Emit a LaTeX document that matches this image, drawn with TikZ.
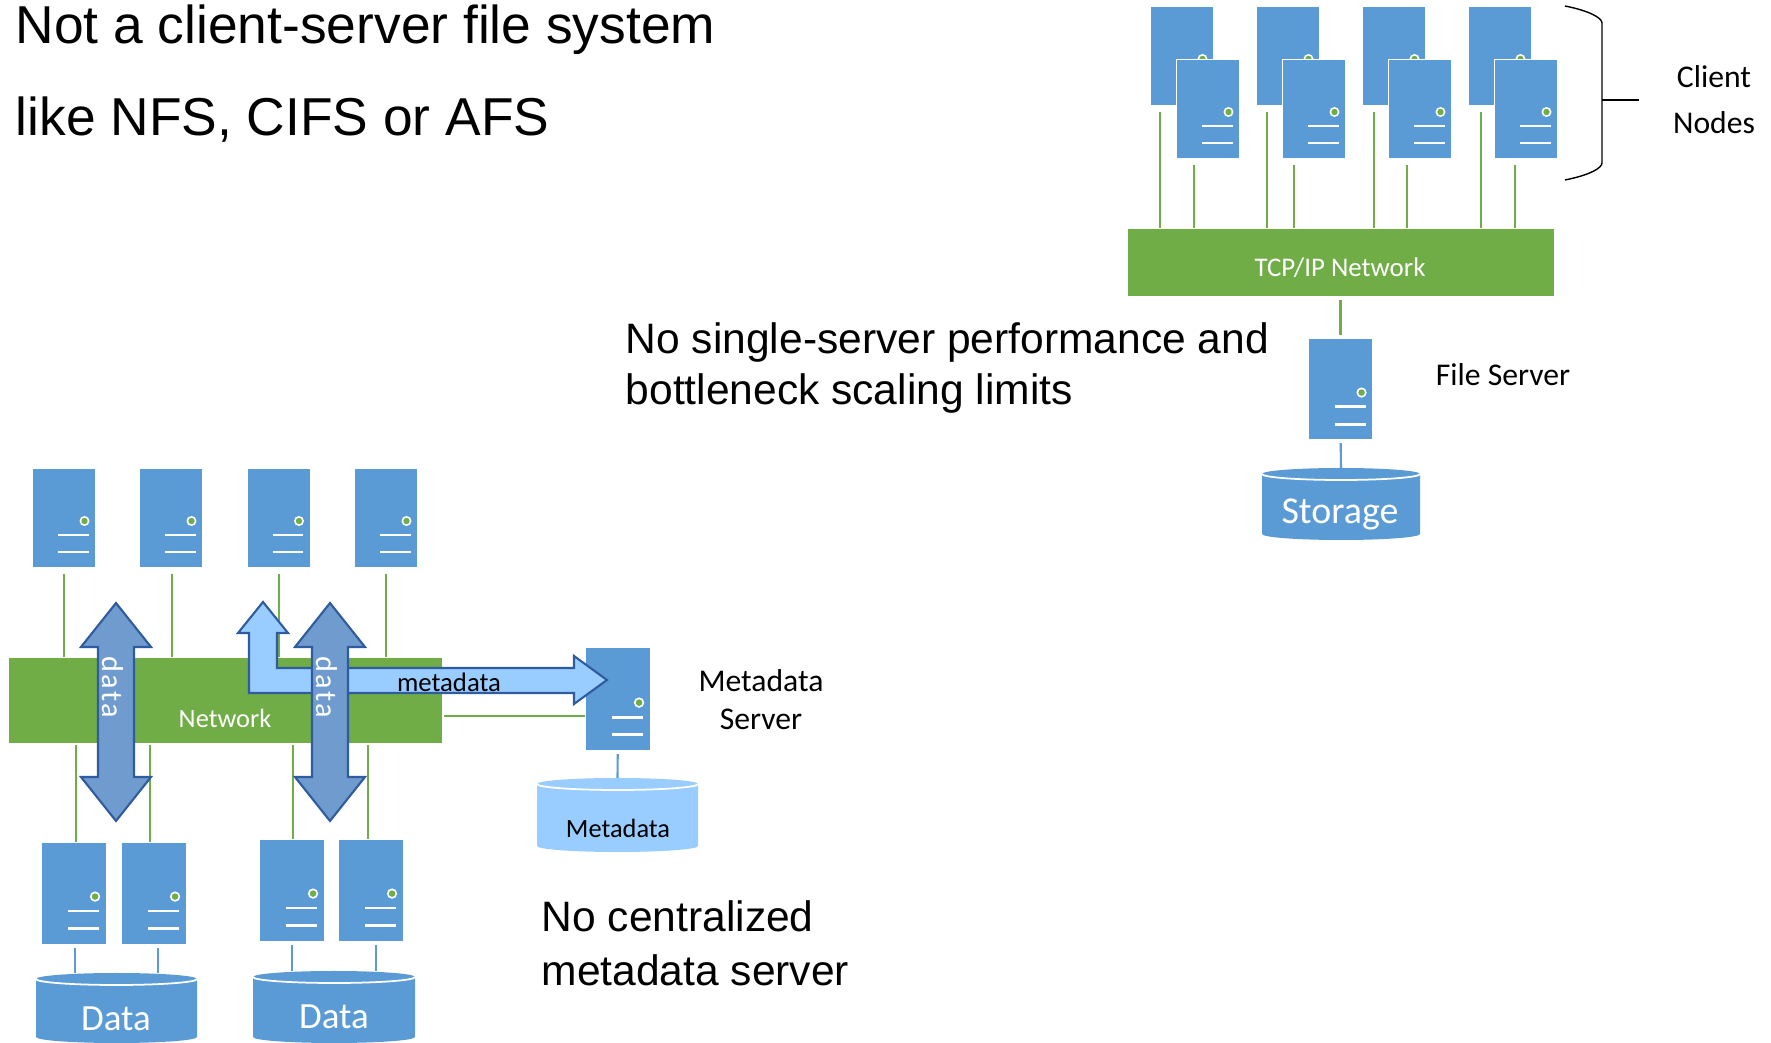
\documentclass[tikz,border=0pt]{standalone}
\usepackage{fontspec}
\setmainfont{Carlito}
\newfontfamily\headfont{Liberation Sans}
\newfontfamily\spacedfont[LetterSpace=8]{Carlito}
\definecolor{srvblue}{HTML}{5B9BD5}
\definecolor{netgreen}{HTML}{70AD47}
\definecolor{metablue}{HTML}{99CCFF}
\definecolor{datablue}{HTML}{6F9BCF}
\definecolor{edgeblue}{HTML}{2F5C9E}
\tikzset{
  server/.style={rectangle,fill=srvblue,draw=white,line width=0.2pt,anchor=north west,
    minimum width=0.63cm,minimum height=0.99cm,inner sep=0pt,outer sep=0pt},
  network/.style={rectangle,fill=netgreen,draw=white,line width=0.2pt,anchor=north west,inner sep=0pt,outer sep=0pt},
  greenlink/.style={draw=netgreen,line width=0.75pt,shorten <=2pt},
  bluelink/.style={draw=srvblue,line width=0.6pt,shorten <=1pt},
  flow/.style={draw=edgeblue,line width=0.6pt,line join=miter},
  head/.style={font=\headfont\fontsize{15.17}{18}\selectfont,anchor=base west,inner sep=0pt},
  remark/.style={font=\headfont\fontsize{12.1}{15}\selectfont,anchor=base west,inner sep=0pt},
  label/.style={font=\fontsize{9}{11}\selectfont,inner sep=0pt},
  onnet/.style={font=\fontsize{7.5}{9}\selectfont,text=white,inner sep=0pt}
}
\newcommand{\servernode}[4][1]{
  \begin{scope}[shift={(#3,#4)},scale=#1]
    \node[server,transform shape] (#2) at (0,0) {};
    \fill[white] (52,53) circle[radius=5];
    \fill[netgreen] (52,53) circle[radius=3.2];
    \draw[white,line width=0.8pt] (25.5,67) -- (56,67);
    \draw[white,line width=0.8pt] (25.5,84) -- (56,84);
  \end{scope}
}
\newcommand{\storagenode}[6]{
  \begin{scope}[shift={(#3,#4)}]
    \fill[#2] (0,6) -- (0,#6-6) arc[start angle=180,end angle=0,x radius=#5/2,y radius=6]
      -- (#5,6) arc[start angle=0,end angle=-180,x radius=#5/2,y radius=6] -- cycle;
    \draw[white,line width=0.5pt] (0,6) arc[start angle=180,end angle=0,x radius=#5/2,y radius=6];
    \coordinate (#1) at (#5/2,0);
  \end{scope}
}
\begin{document}
\begin{tikzpicture}[x=0.01cm,y=-0.01cm]
  \useasboundingbox (0,0) rectangle (1771,1043);
  % upper right
  \foreach \n/\x in {1/1150.5,2/1256.5,3/1362.5,4/1468.5}
    \servernode{back\n}{\x}{6}
  \foreach \n/\x in {1/1176.5,2/1282.5,3/1388.5,4/1494.5}
    \servernode{front\n}{\x}{59}
  \node[network,minimum width=4.27cm,minimum height=0.68cm] (tcp) at (1127,228) {};
  \node[onnet,font=\fontsize{7.65}{9}\selectfont] (tcplabel) at (1340,268) {TCP/IP Network};
  \foreach \n/\x in {1/1160,2/1267,3/1374,4/1481}
    \draw[greenlink] (\x,0 |- back\n.south) -- (\x,0 |- tcp.north);
  \foreach \n/\x in {1/1194,2/1294,3/1407,4/1515}
    \draw[greenlink] (\x,0 |- front\n.south) -- (\x,0 |- tcp.north);
  \draw[line width=0.4pt] (1565,6) .. controls (1590,11) and (1602,18) .. (1602,23) -- (1602,163)
    .. controls (1602,168) and (1590,175) .. (1565,180);
  \coordinate (bracemid) at (1602,100);
  \coordinate (bracetick) at (1639,100);
  \draw[line width=0.4pt] (bracemid) -- (bracetick);
  \node[label] (clientlabel) at (1714,77) {Client};
  \node[label] (nodeslabel) at (1714,123) {Nodes};
  \servernode[1.02]{fileserver}{1308.5}{338.5}
  \storagenode{disk}{srvblue}{1262}{468}{158}{72}
  \node[label,text=white,font=\fontsize{10.8}{12}\selectfont] (disklabel) at (1340,514) {Storage};
  \draw[greenlink,shorten <=1pt,shorten >=1pt] (tcp.south -| fileserver.north) -- (fileserver.north);
  \draw[bluelink] (fileserver.south) -- (disk);
  \node[label] (filelabel) at (1503,375) {File Server};
  % lower left
  \foreach \n/\x in {1/32.5,2/139.5,3/247,4/354.5}
    \servernode{client\n}{\x}{468}
  \servernode[1.03]{data1}{41.5}{842}
  \servernode[1.03]{data2}{121.5}{842}
  \servernode[1.03]{data3}{259.5}{839}
  \servernode[1.03]{data4}{338.5}{839}
  \servernode[1.04]{metaserver}{585}{647.5}
  \node[network,minimum width=4.34cm,minimum height=0.86cm] (net) at (8,657) {};
  \foreach \n/\x in {1/64,2/172,3/279,4/386}
    \draw[greenlink] (\x,0 |- client\n.south) -- (\x,0 |- net.north);
  \foreach \n/\x in {1/76,2/150,3/293,4/368}
    \draw[greenlink,shorten <=0.5pt] (\x,0 |- net.south) -- (\x,0 |- data\n.north);
  \draw[greenlink,shorten <=0.5pt] (net.east |- 0,716) -- (metaserver.west |- 0,716);
  \node[onnet] (netlabel) at (225,718.5) {Network};
  \draw[flow,fill=metablue] (263,602) -- (288,633) -- (277,633) -- (277,668) -- (574,668) -- (574,656)
    -- (607,680) -- (574,704) -- (574,693) -- (249,693) -- (249,633) -- (238,633) -- cycle;
  \node[label,font=\fontsize{7.6}{9}\selectfont] (metaflow) at (449,682) {metadata};
  \foreach \x in {116,330} {
    \draw[flow,fill=datablue] (\x,603) -- (\x+35,647) -- (\x+18,647) -- (\x+18,777) -- (\x+35,777)
      -- (\x,821) -- (\x-35,777) -- (\x-18,777) -- (\x-18,647) -- (\x-35,647) -- cycle;
    \node[rotate=-90,text=white,inner sep=0pt,font=\spacedfont\fontsize{8.6}{10}\selectfont] (data\x) at (\x-3,687) {data};
  }
  \storagenode{store1}{srvblue}{36}{973}{161}{70}
  \storagenode{store2}{srvblue}{253}{971}{162}{72}
  \storagenode{metastore}{metablue}{537}{778}{161}{74}
  \node[label,text=white,font=\fontsize{10.5}{12}\selectfont] (store1label) at (116,1019) {Data};
  \node[label,text=white,font=\fontsize{10.5}{12}\selectfont] (store2label) at (334,1017) {Data};
  \node[label,font=\fontsize{7.5}{9}\selectfont] (metastorelabel) at (618,828) {Metadata};
  \foreach \n/\x/\s in {1/75/store1,2/158/store1,3/292/store2,4/376/store2}
    \draw[bluelink] (\x,0 |- data\n.south) -- (\x,0 |- \s);
  \draw[bluelink] (metaserver.south) -- (metastore);
  \node[label] (metalabel) at (761,681) {Metadata};
  \node[label] (serverlabel) at (761,719) {Server};
  % remarks
  \node[head] (head1) at (15,44) {Not a client-server file system};
  \node[head] (head2) at (15,136) {like NFS, CIFS or AFS};
  \node[remark] (rem1) at (625,354) {No single-server performance and};
  \node[remark] (rem2) at (625,405) {bottleneck scaling limits};
  \node[remark] (rem3) at (541,932) {No centralized};
  \node[remark] (rem4) at (541,986) {metadata server};
\end{tikzpicture}
\end{document}
